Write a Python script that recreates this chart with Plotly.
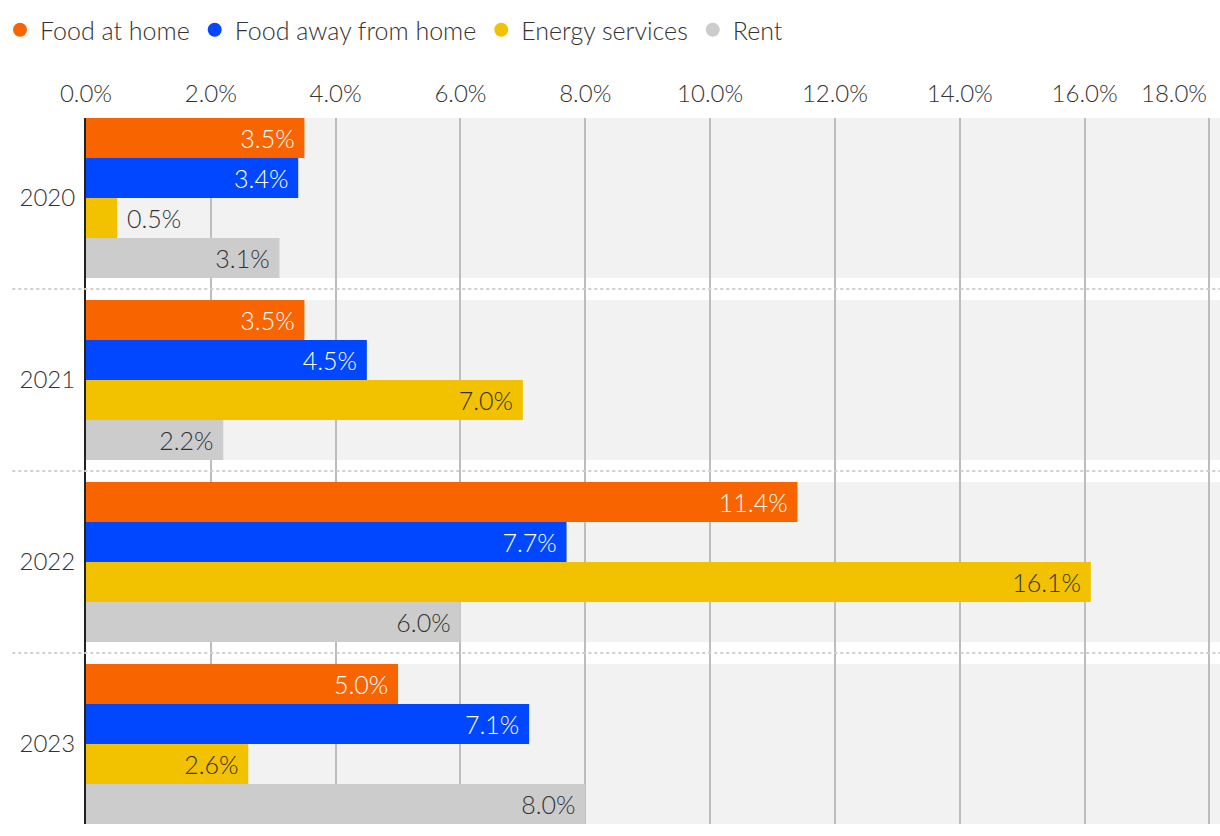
import plotly.graph_objects as go

years = ["2020", "2021", "2022", "2023"]
series_names = ["Food at home", "Food away from home", "Energy services", "Rent"]
food_home = [3.5, 3.5, 11.4, 5.0]
food_away = [3.4, 4.5, 7.7, 7.1]
energy = [0.5, 7.0, 16.1, 2.6]
rent = [3.1, 2.2, 6.0, 8.0]
x_ticks = [0, 2, 4, 6, 8, 10, 12, 14, 16, 18]
x_ticktext = ["0.0%", "2.0%", "4.0%", "6.0%", "8.0%", "10.0%", "12.0%", "14.0%", "16.0%", "18.0%"]

colors = ["#F86400", "#0047FF", "#F2C200", "#CCCCCC"]
text_colors = ["#FFFFFF", "#FFFFFF", "#333333", "#333333"]
FONT = "Source Sans Pro, Lato, Roboto, sans-serif"

fig = go.Figure()
for name, vals, col, tcol in zip(series_names, [food_home, food_away, energy, rent], colors, text_colors):
    fig.add_trace(go.Bar(
        y=years, x=vals, orientation="h", name=name,
        marker=dict(color=col, line=dict(width=0)),
        texttemplate="&nbsp;%{x:.1f}%&nbsp;", textposition="auto",
        insidetextanchor="end", cliponaxis=False,
        insidetextfont=dict(color=tcol, size=25, family=FONT, weight=300),
        outsidetextfont=dict(color="#333333", size=25, family=FONT, weight=300),
        showlegend=False, hoverinfo="skip",
    ))
    fig.add_trace(go.Scatter(
        x=[None], y=[None], mode="markers", name=name,
        marker=dict(color=col, size=14, symbol="circle"),
        showlegend=True,
    ))

shapes = []
half = 0.44
for i, _ in enumerate(years):
    shapes.append(dict(type="rect", xref="paper", yref="y", x0=0, x1=1,
                       y0=i - half, y1=i + half, fillcolor="#F2F2F2",
                       line=dict(width=0), layer="below"))
    if i < len(years) - 1:
        shapes.append(dict(type="line", xref="paper", yref="y", x0=-0.065, x1=1,
                           y0=i + 0.5, y1=i + 0.5,
                           line=dict(color="#D0D0D0", width=2, dash="dot"), layer="above"))

# last tick label is right-aligned to its gridline (kept inside the figure)
annotations = [dict(x=x_ticks[-1], xref="x", y=1, yref="paper", text=x_ticktext[-1],
                    showarrow=False, xanchor="right", yanchor="bottom", yshift=9,
                    font=dict(size=24, family=FONT, color="#333333", weight=300))]
tick_labels_shown = x_ticktext[:-1] + [""]

fig.update_layout(
    width=1220, height=836,
    margin=dict(l=86, r=0, t=118, b=12, autoexpand=False),
    paper_bgcolor="white", plot_bgcolor="white",
    barmode="group", bargap=0.121, bargroupgap=0,
    font=dict(family=FONT, size=24, color="#333333", weight=300),
    shapes=shapes, annotations=annotations,
    legend=dict(orientation="h", x=-0.008, xref="container", xanchor="left",
                y=0.9916, yref="container", yanchor="top",
                font=dict(size=25, family=FONT, color="#333333", weight=300),
                itemwidth=30, tracegroupgap=0, bgcolor="rgba(0,0,0,0)"),
    xaxis=dict(side="top", range=[0, 18.17], tickmode="array", tickvals=x_ticks,
               ticktext=tick_labels_shown, showgrid=True, automargin=False,
               gridcolor="#BDBDBD", gridwidth=2, zeroline=False,
               showline=False, ticks="", ticklabelstandoff=10,
               tickfont=dict(size=24, family=FONT, color="#333333", weight=300)),
    yaxis=dict(categoryorder="array", categoryarray=years, automargin=False,
               range=[3.44, -0.44], showgrid=False, zeroline=False,
               showline=True, linecolor="#222222", linewidth=2,
               ticks="", ticklabelstandoff=4,
               tickfont=dict(size=24, family=FONT, color="#333333", weight=300)),
)

fig.write_html("out.html", config={"displayModeBar": False},
               post_script="document.body.style.margin='0';document.body.style.overflow='hidden';")
